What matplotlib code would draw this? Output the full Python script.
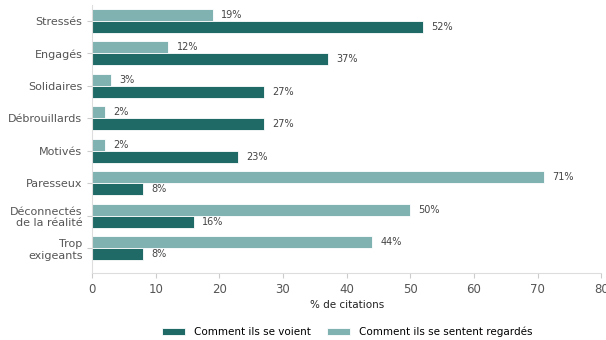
import matplotlib.pyplot as plt
import numpy as np

categories = ["Stressés", "Engagés", "Solidaires", "Débrouillards", "Motivés",
              "Paresseux", "Déconnectés\nde la réalité", "Trop\nexigeants"]
se_voient = [52, 37, 27, 27, 23, 8, 16, 8]
regardes = [19, 12, 3, 2, 2, 71, 50, 44]

dark = "#1f6966"
light = "#7fb2b0"

fig = plt.figure(figsize=(6.06, 3.4), dpi=100)
ax = fig.add_axes([0.152, 0.197, 0.84, 0.789])

y = np.arange(len(categories))
h = 0.37
b1 = ax.barh(y - h / 2, regardes, height=h, color=light, edgecolor="white", linewidth=0.6,
             label="Comment ils se sentent regardés")
b2 = ax.barh(y + h / 2, se_voient, height=h, color=dark, edgecolor="white", linewidth=0.6,
             label="Comment ils se voient")

for bars, vals in [(b1, regardes), (b2, se_voient)]:
    for r, v in zip(bars, vals):
        ax.text(r.get_width() + 1.3, r.get_y() + r.get_height() / 2, f"{v}%",
                va="center", ha="left", fontsize=7, color="#444444")

ax.set_yticks(y)
ax.set_yticklabels(categories)
ax.set_ylim(7.77, -0.5)
ax.set_xlim(0, 80)
ax.set_xticks(range(0, 81, 10))
ax.tick_params(axis="y", colors="#cccccc", labelcolor="#555555", labelsize=8)
ax.tick_params(axis="x", colors="#cccccc", labelcolor="#555555", labelsize=8.5)
ax.set_xlabel("% de citations", fontsize=7.5, color="#222222", labelpad=3)
for s in ["top", "right"]:
    ax.spines[s].set_visible(False)
for s in ["left", "bottom"]:
    ax.spines[s].set_color("#dddddd")

handles = [b2, b1]
fig.legend(handles, [hh.get_label() for hh in handles], loc="lower center",
           bbox_to_anchor=(0.573, -0.02), ncol=2, frameon=False, fontsize=7.5,
           handlelength=2.2, handleheight=0.7, columnspacing=1.6)

fig.savefig("out.png", dpi=100)
